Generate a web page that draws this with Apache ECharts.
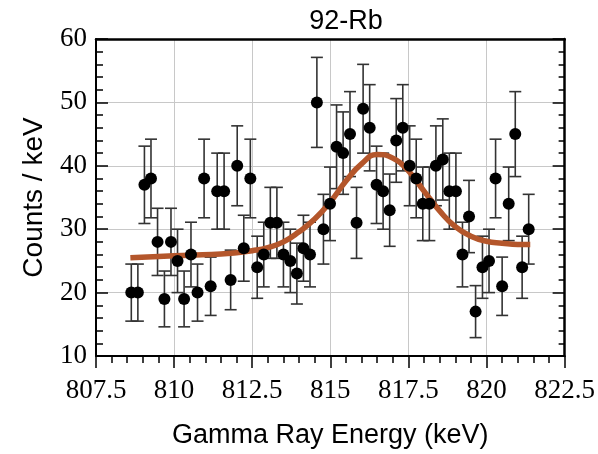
<!DOCTYPE html>
<html>
<head>
<meta charset="utf-8">
<script src="https://cdn.jsdelivr.net/npm/echarts@6/dist/echarts.min.js"></script>
<style>
html,body{margin:0;padding:0;background:#fff;}
#chart{width:598px;height:454px;}
</style>
</head>
<body>
<div id="chart"></div>
<script>
// ---- Data ----
const energies = [808.63, 808.84, 809.05, 809.26, 809.47, 809.69, 809.90, 810.11, 810.32, 810.54,
  810.75, 810.96, 811.17, 811.38, 811.60, 811.81, 812.02, 812.23, 812.44, 812.66,
  812.87, 813.08, 813.29, 813.50, 813.72, 813.93, 814.14, 814.35, 814.57, 814.78,
  814.99, 815.20, 815.41, 815.63, 815.84, 816.05, 816.26, 816.48, 816.69, 816.90,
  817.11, 817.32, 817.54, 817.75, 817.96, 818.17, 818.38, 818.60, 818.81, 819.02,
  819.23, 819.44, 819.65, 819.87, 820.08, 820.29, 820.50, 820.71, 820.92, 821.14, 821.35];
const counts = [20, 20, 37, 38, 28, 19, 28, 25, 19, 26,
  20, 38, 21, 36, 36, 22, 40, 27, 38, 24,
  26, 31, 31, 26, 25, 23, 27, 26, 50, 30,
  34, 43, 42, 45, 31, 49, 46, 37, 36, 33,
  44, 46, 40, 38, 34, 34, 40, 41, 36, 36,
  26, 32, 17, 24, 25, 38, 21, 34, 45, 24, 30];
const errors = [4.5, 4.5, 6.1, 6.2, 5.3, 4.4, 5.3, 5.0, 4.4, 5.1,
  4.5, 6.2, 4.6, 6.0, 6.0, 4.7, 6.3, 5.2, 6.2, 4.9,
  5.1, 5.6, 5.6, 5.1, 5.0, 4.8, 5.2, 5.1, 7.1, 5.5,
  5.8, 6.6, 6.5, 6.7, 5.6, 7.0, 6.8, 6.1, 6.0, 5.7,
  6.6, 6.8, 6.3, 6.2, 5.8, 5.8, 6.3, 6.4, 6.0, 6.0,
  5.1, 5.7, 4.1, 4.9, 5.0, 6.2, 4.6, 5.8, 6.7, 4.9, 5.5];
const fitEnergies = [808.6, 809.5, 810.5, 811.5, 812.0, 812.5, 813.0, 813.5, 814.0, 814.5,
  815.0, 815.5, 816.0, 816.5, 817.0, 817.5, 818.0, 818.5, 819.0, 819.5,
  820.0, 820.5, 821.0, 821.4];
const fitCounts = [25.5, 25.7, 25.9, 26.1, 26.3, 26.6, 27.1, 28.0, 29.6, 31.6,
  34.3, 37.6, 40.3, 41.8, 41.2, 39.2, 36.0, 32.9, 30.4, 28.9,
  28.1, 27.8, 27.6, 27.6];
const xTicks = {min: 807.5, max: 822.5, step: 2.5};
const yTicks = {min: 10, max: 60, step: 10};

// ---- Build series data ----
const pointData = energies.map((e, i) => [e, counts[i]]);
const errData = energies.map((e, i) => [e, counts[i] - errors[i], counts[i] + errors[i]]);
const fitData = fitEnergies.map((e, i) => [e, fitCounts[i]]);

const chart = echarts.init(document.getElementById('chart'), null, {renderer: 'canvas'});
const serif = 'Liberation Serif';
const sans = 'Liberation Sans';
const gridGray = '#c8c8c8';

chart.setOption({
  animation: false,
  backgroundColor: '#fff',
  title: {
    text: '92-Rb',
    left: 341, top: 3, textAlign: 'center',
    textStyle: {fontFamily: sans, fontSize: 27, fontWeight: 'normal', color: '#000'}
  },
  grid: {left: 96, right: 32, top: 39, bottom: 91, containLabel: false},
  xAxis: [{
    type: 'value', position: 'bottom',
    min: xTicks.min, max: xTicks.max, interval: xTicks.step,
    name: 'Gamma Ray Energy (keV)', nameLocation: 'middle', nameGap: 66,
    nameTextStyle: {fontFamily: sans, fontSize: 27, color: '#000'},
    axisLine: {show: true, onZero: false, lineStyle: {color: '#000', width: 2}},
    axisTick: {show: true, inside: false, length: 12, lineStyle: {color: '#000', width: 1.5}},
    minorTick: {show: true, splitNumber: 5, length: 7, lineStyle: {color: '#000', width: 1.5}},
    axisLabel: {fontFamily: serif, fontSize: 27, color: '#000', margin: 21, showMinLabel: true, showMaxLabel: true},
    splitLine: {show: true, lineStyle: {color: gridGray, width: 1}}
  }, {
    type: 'value', position: 'top',
    min: xTicks.min, max: xTicks.max, interval: xTicks.step,
    axisLine: {show: true, onZero: false, lineStyle: {color: '#000', width: 2.5}},
    axisTick: {show: false}, axisLabel: {show: false}, splitLine: {show: false}
  }],
  yAxis: [{
    type: 'value', position: 'left',
    min: yTicks.min, max: yTicks.max, interval: yTicks.step,
    name: 'Counts / keV', nameLocation: 'middle', nameGap: 48,
    nameTextStyle: {fontFamily: sans, fontSize: 28, color: '#000'},
    axisLine: {show: true, onZero: false, lineStyle: {color: '#000', width: 2}},
    axisTick: {show: true, inside: true, length: 12, lineStyle: {color: '#000', width: 1.5}},
    minorTick: {show: true, splitNumber: 5, length: 7, lineStyle: {color: '#000', width: 1.5}},
    axisLabel: {fontFamily: serif, fontSize: 27, color: '#000', margin: 9},
    splitLine: {show: true, lineStyle: {color: gridGray, width: 1}}
  }, {
    type: 'value', position: 'right',
    min: yTicks.min, max: yTicks.max, interval: yTicks.step,
    axisLine: {show: true, onZero: false, lineStyle: {color: '#000', width: 2.5}},
    axisTick: {show: true, inside: true, length: 12, lineStyle: {color: '#000', width: 1.5}},
    minorTick: {show: true, splitNumber: 5, length: 6, lineStyle: {color: '#000', width: 1.5}},
    axisLabel: {show: false},
    splitLine: {show: false}
  }],
  series: [{
    type: 'custom',
    name: 'errors',
    xAxisIndex: 0, yAxisIndex: 0,
    z: 2,
    data: errData,
    encode: {x: 0, y: [1, 2]},
    renderItem: function (params, api) {
      const x = api.value(0);
      const top = api.coord([x, api.value(2)]);
      const bot = api.coord([x, api.value(1)]);
      const hw = 6;
      const style = {stroke: '#333', lineWidth: 1.6};
      return {
        type: 'group',
        children: [
          {type: 'line', shape: {x1: top[0], y1: top[1], x2: bot[0], y2: bot[1]}, style: style},
          {type: 'line', shape: {x1: top[0] - hw, y1: top[1], x2: top[0] + hw, y2: top[1]}, style: style},
          {type: 'line', shape: {x1: bot[0] - hw, y1: bot[1], x2: bot[0] + hw, y2: bot[1]}, style: style}
        ]
      };
    }
  }, {
    type: 'line',
    name: 'fit',
    xAxisIndex: 0, yAxisIndex: 0,
    z: 3,
    data: fitData,
    smooth: 0.5,
    showSymbol: false,
    lineStyle: {color: '#b4562b', width: 5.5}
  }, {
    type: 'scatter',
    name: 'data',
    xAxisIndex: 0, yAxisIndex: 0,
    z: 4,
    data: pointData,
    symbol: 'circle',
    symbolSize: 12,
    itemStyle: {color: '#000', opacity: 1}
  }]
});
</script>
</body>
</html>
